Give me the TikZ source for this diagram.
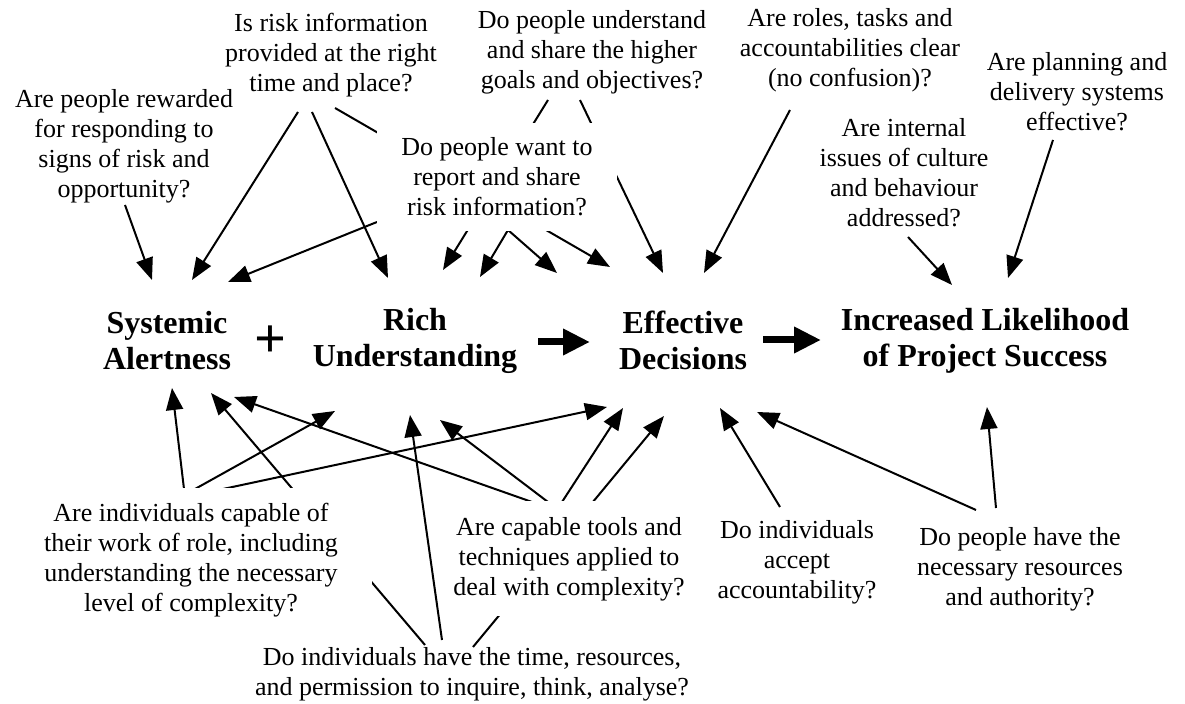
\documentclass[tikz,border=0pt]{standalone}
\usepackage{fontspec}
\setmainfont{Liberation Serif}
\usepackage{tikz}
\usetikzlibrary{arrows.meta,calc,backgrounds}

\begin{document}
\begin{tikzpicture}[x=0.5pt, y=-0.5pt,
		q/.style={align=center, inner sep=0pt, font=\fontsize{13}{15}\selectfont},
		goal/.style={align=center, inner sep=0pt, font=\bfseries\fontsize{16}{18}\selectfont},
		arr/.style={-{Triangle[length=11pt,width=8.5pt]}, line width=1pt},
		bigarr/.style={-{Triangle[length=13.5pt,width=12.5pt]}, line width=3.5pt}];
				\useasboundingbox (0,0) rectangle (1185,704);
				% questions above
				\node[q] (rew) at (124,146) {Are people rewarded\\for responding to\\signs of risk and\\opportunity?};
				\node[q] (info) at (331,55) {Is risk information\\provided at the right\\time and place?};
				\node[q] (goals) at (592,52) {Do people understand\\and share the higher\\goals and objectives?};
				\node[q] (roles) at (850,50) {Are roles, tasks and\\accountabilities clear\\(no confusion)?};
				\node[q] (plan) at (1077,92) {Are planning and\\delivery systems\\effective?};
				\node[q] (cult) at (904,173) {Are internal\\issues of culture\\and behaviour\\addressed?};
				\node[q, fill=white, minimum width=120pt, minimum height=54pt] (want) at (497,177) {Do people want to\\report and share\\risk information?};
				% main line
				\node[goal] (SA) at (167,341) {Systemic\\Alertness};
				\node[font=\bfseries\fontsize{28}{28}\selectfont, inner sep=0pt] (plus) at (270,342) {+};
				\node[goal] (RU) at (415,341) {Rich\\Understanding};
				\node[goal] (ED) at (683,340) {Effective\\Decisions};
				\node[goal] (ILPS) at (985,341) {Increased Likelihood\\of Project Success};
				% questions below
				\node[q, fill=white, minimum width=181pt, minimum height=72pt] (cap) at (191,560) {Are individuals capable of\\their work of role, including\\understanding the necessary\\level of complexity?};
				\node[q, fill=white, minimum width=120pt, minimum height=57.5pt] (tools) at (569,559) {Are capable tools and\\techniques applied to\\deal with complexity?};
				\node[q] (acc) at (797,562) {Do individuals\\accept\\accountability?};
				\node[q] (res) at (1020,569) {Do people have the\\necessary resources\\and authority?};
				\node[q] (time) at (472,674) {Do individuals have the time, resources,\\and permission to inquire, think, analyse?};

				\draw[bigarr] ($(RU)+(123,1)$) -- ($(ED)+(-93,2)$);
				\draw[bigarr] ($(ED)+(80,0)$) -- ($(ILPS)+(-164,-1)$);

				\begin{pgfonlayer}{background}
				\draw[arr] ($(rew)+(1,59)$) -- ($(SA)+(-15,-61)$);
				\draw[arr] ($(info)+(-33,57)$) -- ($(SA)+(25,-61)$);
				\draw[arr] ($(info)+(-19,57)$) -- ($(RU)+(-27,-63)$);
				\draw[arr] ($(info)+(4,53)$) -- ($(ED)+(-73,-73)$);
				\draw[arr] ($(want)+(-120,45)$) -- ($(SA)+(61,-59)$);
				\draw[arr] ($(goals)+(-44,48)$) -- ($(RU)+(28,-71)$);
				\draw[arr] ($(want)+(11,53)$) -- ($(RU)+(65,-64)$);
				\draw[arr] ($(want)+(11,53)$) -- ($(ED)+(-126,-67)$);
				\draw[arr] ($(goals)+(-12,48)$) -- ($(ED)+(-20,-67)$);
				\draw[arr] ($(roles)+(-60,60)$) -- ($(ED)+(21,-67)$);
				\draw[arr] ($(cult)+(4,64)$) -- ($(ILPS)+(-33,-56)$);
				\draw[arr] ($(plan)+(-24,48)$) -- ($(ILPS)+(23,-63)$);

				\draw[arr] ($(cap)+(-7,-71)$) -- ($(SA)+(5,47)$);
				\draw[arr] ($(cap)+(4,-71)$) -- ($(RU)+(-80,70)$);
				\draw[arr] ($(cap)+(32,-71)$) -- ($(ED)+(-76,67)$);
				\draw[arr] ($(time)+(-47,-29)$) -- ($(SA)+(44,52)$);
				\draw[arr] ($(tools)+(-37,-57)$) -- ($(SA)+(67,56)$);
				\draw[arr] ($(time)+(-30,-34)$) -- ($(RU)+(-5,74)$);
				\draw[arr] ($(tools)+(-21,-57)$) -- ($(RU)+(25,79)$);
				\draw[arr] ($(tools)+(-7,-57)$) -- ($(ED)+(-60,68)$);
				\draw[arr] ($(time)+(1,-27)$) -- ($(ED)+(-19,76)$);
				\draw[arr] ($(acc)+(-17,-55)$) -- ($(ED)+(37,68)$);
				\draw[arr] ($(res)+(-44,-59)$) -- ($(ED)+(74,72)$);
				\draw[arr] ($(res)+(-24,-61)$) -- ($(ILPS)+(2,66)$);
				\end{pgfonlayer}
			\end{tikzpicture}
\end{document}
